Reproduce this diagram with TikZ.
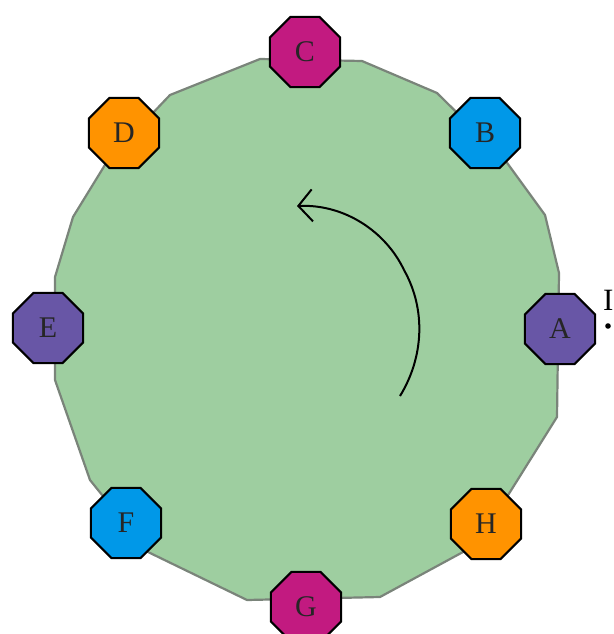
\documentclass[tikz,border=0pt]{standalone}
\usepackage{fontspec}
\setmainfont{Liberation Serif}
\usetikzlibrary{shapes.geometric,arrows.meta}
\definecolor{ringgreen}{RGB}{158,206,160}
\definecolor{ringedge}{RGB}{122,132,122}
\definecolor{octmag}{RGB}{194,26,128}
\definecolor{octorange}{RGB}{255,147,0}
\definecolor{octblue}{RGB}{0,152,232}
\definecolor{octpurple}{RGB}{104,86,166}
\begin{document}
\begin{tikzpicture}[x=1pt,y=-1pt,
  oct/.style={regular polygon, regular polygon sides=8, minimum size=76pt,
    inner sep=0pt, draw=black, line width=2pt, text=black!85,
    font=\fontsize{30}{30}\selectfont},
  ring/.style={fill=ringgreen, draw=ringedge, line width=2.2pt, line join=round},
  turn/.style={line width=2pt, -{Straight Barb[length=14pt,width=32pt]}}]
\useasboundingbox (0,0) rectangle (613,634);
% ring
\path[ring] (260,59) -- (362,61) -- (437,93) -- (505,160) -- (545,215)
  -- (559,273) -- (557,417) -- (500,508) -- (463,552) -- (380,597)
  -- (247,600) -- (148,552) -- (90,480) -- (55,380) -- (55,277)
  -- (73,217) -- (108,160) -- (170,95) -- cycle;
% rotation arrow
\coordinate (arcS) at (400,396);
\coordinate (arcE) at (297,206);
\draw[turn] (arcS) .. controls (424,357) and (426,309) .. (404,270)
  .. controls (386,232) and (345,204) .. (arcE);
% peers
\node[oct, fill=octmag]    (C) at (305,52)  {C};
\node[oct, fill=octblue]   (B) at (485,133) {B};
\node[oct, fill=octpurple] (A) at (560,329) {A};
\node[oct, fill=octorange] (H) at (486,524) {H};
\node[oct, fill=octmag]    (G) at (306,607) {G};
\node[oct, fill=octblue]   (F) at (126,523) {F};
\node[oct, fill=octpurple] (E) at (48,328)  {E};
\node[oct, fill=octorange] (D) at (124,133) {D};
% cut-off label at right edge
\node[anchor=base west, inner sep=0pt, font=\fontsize{31}{31}\selectfont] (cut) at (603,310) {I};
\fill (608,326) circle (2.8pt);
\end{tikzpicture}
\end{document}
